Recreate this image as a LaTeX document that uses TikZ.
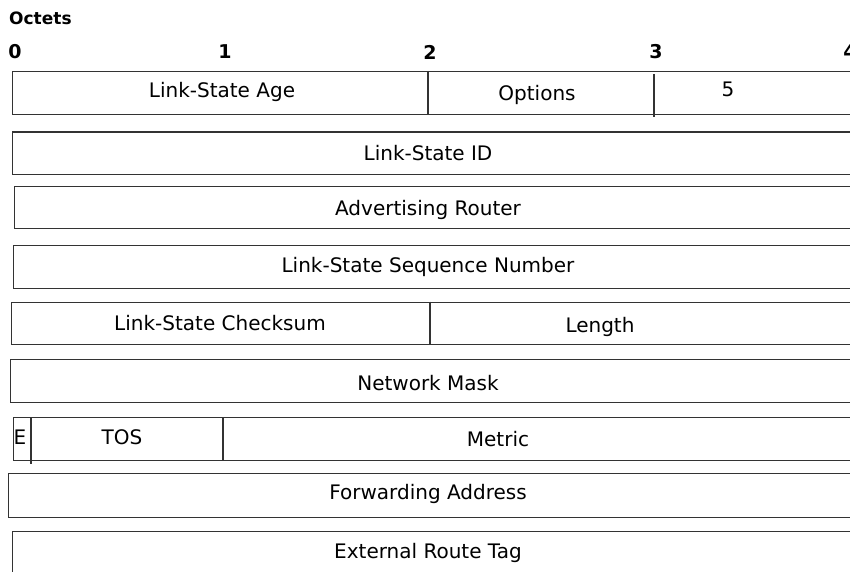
\documentclass[tikz,border=0pt]{standalone}
\usepackage{fontspec}
\setmainfont{DejaVu Sans}
\usetikzlibrary{positioning}

\begin{document}
\begin{tikzpicture}[
  x=1pt, y=-1pt,
  row/.style = {rectangle, draw=black!80, line width=1.2pt, anchor=north west, inner sep=0pt},
  field/.style = {font=\fontsize{20}{23}\selectfont, inner sep=0pt},
  octet/.style = {font=\bfseries\fontsize{19}{22}\selectfont, inner sep=0pt},
  divider/.style = {draw=black!80, line width=1.2pt}
  ]
\useasboundingbox (0,0) rectangle (850,572);
\clip (0,0) rectangle (850,572);

% header
\node[octet, font=\bfseries\fontsize{17}{20}\selectfont, anchor=west] (octets) at (9,18) {Octets};
\node[octet] (o0) at (15,52) {0};
\node[octet] (o1) at (225,52) {1};
\node[octet] (o2) at (430,52) {2};
\node[octet] (o3) at (656,52) {3};
\node[octet] (o4) at (850,52) {4};

% rows
\node[row, minimum width=848pt, minimum height=43pt] (age) at (12,71) {};
\node[row, minimum width=849pt, minimum height=42.5pt] (lsid) at (11.5,131.5) {};
\node[row, minimum width=847pt, minimum height=42.5pt] (adv) at (13.5,185.5) {};
\node[row, minimum width=848pt, minimum height=43pt] (seq) at (12.5,245) {};
\node[row, minimum width=849pt, minimum height=42.5pt] (cks) at (11,301.5) {};
\node[row, minimum width=851pt, minimum height=43pt] (mask) at (9.5,359) {};
\node[row, minimum width=847pt, minimum height=43pt] (tos) at (13,417) {};
\node[row, minimum width=852pt, minimum height=44pt] (fwd) at (8,473) {};
\node[row, minimum width=848pt, minimum height=60pt] (tag) at (12,531) {};

% dividers
\draw[divider] (428,71) -- (428,114);
\draw[divider] (654,74) -- (654,117);
\draw[divider] (430,301.5) -- (430,344);
\draw[divider] (31,417) -- (31,464);
\draw[divider] (223,417) -- (223,460);

% field names
\node[field] (agetext) at (222,92) {Link-State Age};
\node[field] (opttext) at (537,95) {Options};
\node[field] (five) at (728,89) {5};
\node[field] (lsidtext) at (428,153) {Link-State ID};
\node[field] (advtext) at (428,210) {Advertising Router};
\node[field] (seqtext) at (428,267) {Link-State Sequence Number};
\node[field] (ckstext) at (220,323) {Link-State Checksum};
\node[field] (lentext) at (600,327) {Length};
\node[field] (masktext) at (428,383) {Network Mask};
\node[field] (etext) at (20,437) {E};
\node[field] (tostext) at (122,437) {TOS};
\node[field] (mettext) at (498,439) {Metric};
\node[field] (fwdtext) at (428,494) {Forwarding Address};
\node[field] (tagtext) at (428,553) {External Route Tag};

\end{tikzpicture}
\end{document}
